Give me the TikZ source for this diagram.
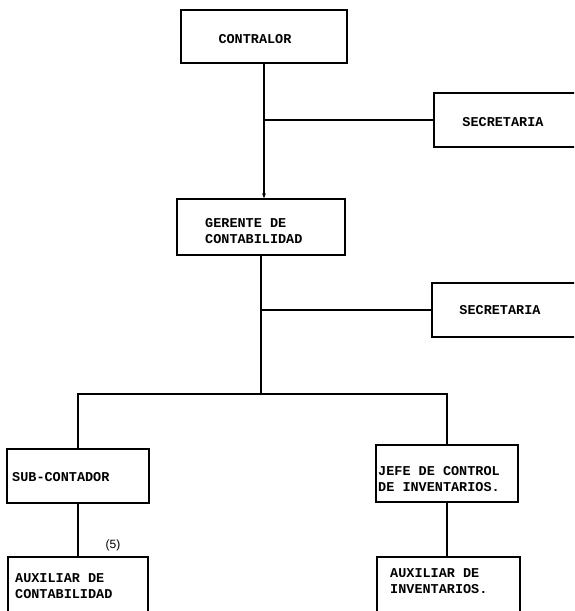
\documentclass[tikz,border=0pt]{standalone}
\usepackage{fontspec}
\setmonofont{Liberation Mono}
\newfontfamily\notefont{Liberation Sans}
\usetikzlibrary{arrows.meta, positioning}

\begin{document}
\begin{tikzpicture}[x=1pt, y=-1pt,
  box/.style 2 args={draw, line width=1.6pt, minimum width=#1, minimum height=#2, inner sep=0pt},
  lbl/.style={font=\ttfamily\bfseries\fontsize{13.5}{16}\selectfont, align=left, inner sep=0pt},
  link/.style={line width=1.6pt}]
\clip (0,0) rectangle (574,611);

% Boxes
\node[box={166pt}{53pt}] (contralor) at (264,36.5) {};
\node[box={166pt}{54pt}] (sec1) at (517,120) {};
\node[box={168pt}{56pt}] (gerente) at (261,227) {};
\node[box={166pt}{54pt}] (sec2) at (515,310) {};
\node[box={142pt}{54pt}] (subcont) at (78,476) {};
\node[box={142pt}{57pt}] (jefe) at (447,473.5) {};
\node[box={140pt}{83pt}] (auxcont) at (78,598.5) {};
\node[box={143pt}{83pt}] (auxinv) at (448.5,598.5) {};

% Labels
\node[lbl] (contralorT) at (255,39) {CONTRALOR};
\node[lbl] (sec1T) at (503,122) {SECRETARIA};
\node[lbl, anchor=west] (gerenteT) at (205,231.5) {GERENTE DE\\CONTABILIDAD};
\node[lbl] (sec2T) at (500,310) {SECRETARIA};
\node[lbl, anchor=west] (subcontT) at (12,477) {SUB-CONTADOR};
\node[lbl, anchor=west] (jefeT) at (378,479) {JEFE DE CONTROL\\DE INVENTARIOS.};
\node[lbl, anchor=west] (auxcontT) at (15,586.5) {AUXILIAR DE\\CONTABILIDAD};
\node[lbl, anchor=west] (auxinvT) at (390,581) {AUXILIAR DE\\INVENTARIOS.};
\node[font=\notefont\fontsize{12}{14}\selectfont, inner sep=0pt] (note) at (113,545) {(5)};

% Connectors
\draw[link, -{Stealth[length=5pt, width=4pt]}] (contralor.south) -- (contralor.south |- gerente.north);
\draw[link] (sec1.west) -- (sec1.west -| contralor.south);
\draw[link] (sec2.west) -- (sec2.west -| gerente.south);
\coordinate (bus) at (261,394);
\draw[link] (gerente.south) -- (bus);
\draw[link] (subcont.north) |- (bus) -| (jefe.north);
\draw[link] (subcont.south) -- (auxcont.north -| subcont.south);
\draw[link] (jefe.south) -- (auxinv.north -| jefe.south);
\end{tikzpicture}
\end{document}
